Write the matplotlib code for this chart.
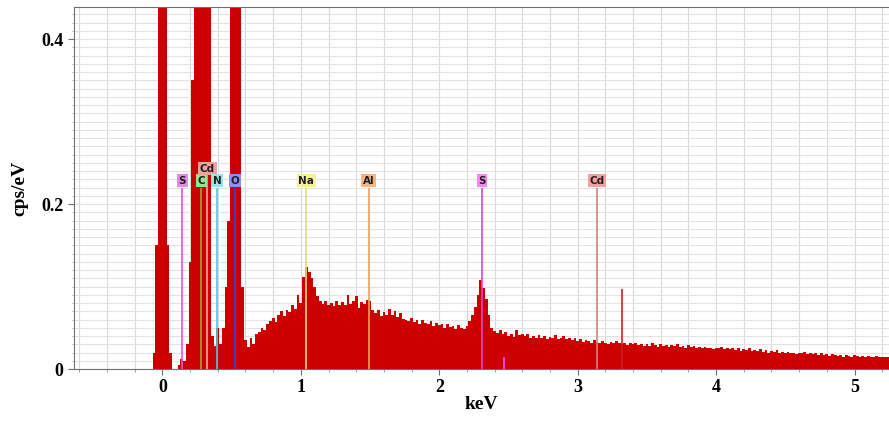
import numpy as np
import matplotlib
matplotlib.use("Agg")
import matplotlib.pyplot as plt
from matplotlib.ticker import MultipleLocator

# EDS spectrum, 0.02 keV channels starting at -0.10 keV (cps/eV)
e_start = -0.10
e_step = 0.02
counts = [
    0.0, 0.0, 0.02, 0.15, 2.0, 2.0, 2.0, 0.15, 0.02, 0.0,
    0.0, 0.005, 0.012, 0.01, 0.03, 0.13, 0.35, 2.0, 2.0, 2.0,
    2.0, 2.0, 0.5, 0.04, 0.028, 0.05, 0.03, 0.05, 0.10, 0.18,
    0.5, 2.0, 2.0, 0.45, 0.10, 0.035, 0.027, 0.037, 0.03, 0.042,
    0.045, 0.05, 0.047, 0.055, 0.058, 0.062, 0.057, 0.066, 0.07, 0.064,
    0.072, 0.069, 0.078, 0.073, 0.09, 0.08, 0.112, 0.124, 0.118, 0.11,
    0.10, 0.088, 0.082, 0.079, 0.083, 0.077, 0.08, 0.076, 0.082, 0.078,
    0.081, 0.077, 0.09, 0.079, 0.083, 0.088, 0.074, 0.081, 0.079, 0.084,
    0.083, 0.072, 0.068, 0.071, 0.064, 0.069, 0.065, 0.073, 0.066, 0.07,
    0.063, 0.068, 0.061, 0.06, 0.058, 0.062, 0.057, 0.06, 0.055, 0.059,
    0.056, 0.054, 0.058, 0.052, 0.056, 0.053, 0.055, 0.05, 0.054, 0.051,
    0.052, 0.049, 0.053, 0.05, 0.048, 0.052, 0.058, 0.065, 0.075, 0.09,
    0.108, 0.098, 0.085, 0.065, 0.05, 0.046, 0.044, 0.047, 0.042, 0.045,
    0.04, 0.043, 0.039, 0.047, 0.041, 0.043, 0.04, 0.042, 0.038, 0.04,
    0.037, 0.041, 0.038, 0.04, 0.036, 0.039, 0.037, 0.041, 0.036, 0.038,
    0.04, 0.036, 0.038, 0.035, 0.037, 0.034, 0.036, 0.033, 0.035, 0.034,
    0.032, 0.035, 0.033, 0.031, 0.034, 0.032, 0.03, 0.033, 0.031, 0.034,
    0.031, 0.03, 0.032, 0.029, 0.031, 0.03, 0.032, 0.029, 0.03, 0.028,
    0.03, 0.028, 0.031, 0.029, 0.027, 0.03, 0.028, 0.029, 0.027, 0.029,
    0.028, 0.03, 0.027, 0.028, 0.026, 0.029, 0.027, 0.028, 0.026, 0.027,
    0.025, 0.027, 0.025, 0.026, 0.024, 0.026, 0.025, 0.027, 0.024, 0.025,
    0.024, 0.026, 0.023, 0.025, 0.022, 0.024, 0.023, 0.025, 0.022, 0.023,
    0.022, 0.024, 0.021, 0.023, 0.02, 0.022, 0.021, 0.023, 0.02, 0.021,
    0.02, 0.021, 0.019, 0.02, 0.018, 0.02, 0.019, 0.021, 0.018, 0.019,
    0.018, 0.02, 0.017, 0.019, 0.017, 0.018, 0.016, 0.018, 0.017, 0.016,
    0.017, 0.015, 0.017, 0.016, 0.015, 0.017, 0.016, 0.015, 0.016, 0.014,
    0.016, 0.015, 0.014, 0.016, 0.015, 0.014, 0.015, 0.014, 0.015,
]
energy = e_start + e_step * np.arange(len(counts))

# single narrow spikes
spike_kev = [3.32]
spike_cps = [0.097]

# element markers
el_names = ["S", "C", "Cd", "N", "O", "Na", "Al", "S", "Cd"]
el_kev = [0.145, 0.28, 0.325, 0.395, 0.525, 1.04, 1.49, 2.31, 3.14]
el_row = [0, 0, 1, 0, 0, 0, 0, 0, 0]
el_box = ["#e48ce4", "#8ee68e", "#f2a0a0", "#92e6ea", "#8c90f2",
          "#f4f290", "#f6b482", "#f28af2", "#f2a0a0"]
el_line = ["#d858d8", "#a8a030", "#e8a8a8", "#40cde0", "#3048e0",
           "#e4e070", "#f0a058", "#e040e0", "#d08080"]

fig = plt.figure(figsize=(8.89, 4.21), dpi=100)
ax = fig.add_axes([0.0832, 0.1235, 0.9168, 0.8598])

ax.bar(energy, counts, width=e_step, color="#cc0000", edgecolor="none", zorder=2)
ax.vlines(spike_kev, 0, spike_cps, color="#cc2020", lw=1.2, zorder=2)

row_y = [0.228, 0.243]
for name, k, r, bc, lc in zip(el_names, el_kev, el_row, el_box, el_line):
    y = row_y[r]
    ax.vlines(k, 0, y - 0.008, color=lc, lw=1.2, zorder=3)
    ax.text(k, y, name, ha="center", va="center", fontsize=7.5,
            fontweight="bold", family="DejaVu Sans", color="#202020", zorder=4,
            bbox=dict(boxstyle="square,pad=0.15", fc=bc, ec="none"))
# short S K-beta mark
ax.vlines(2.465, 0, 0.014, color="#e040e0", lw=1.5, zorder=3)

ax.set_xlim(-0.639, 5.249)
ax.set_ylim(0, 0.4388)

ax.xaxis.set_major_locator(MultipleLocator(1))
ax.xaxis.set_minor_locator(MultipleLocator(0.2))
ax.yaxis.set_major_locator(MultipleLocator(0.2))
ax.yaxis.set_minor_locator(MultipleLocator(0.01))
ax.grid(which="both", axis="x", color="#d8d8d8", lw=0.8, zorder=0)
ax.grid(which="both", axis="y", color="#e2e2e2", lw=0.8, zorder=0)
ax.set_axisbelow(True)

for s in ["left", "bottom", "top"]:
    ax.spines[s].set_color("#707070")
ax.spines["right"].set_visible(False)
ax.tick_params(which="major", length=4, color="#707070", labelsize=13)
ax.tick_params(which="minor", length=2, color="#909090")
ax.tick_params(axis="y", which="minor", length=1.5, color="#b0b0b0")
ax.set_yticks([0, 0.2, 0.4])
ax.set_yticklabels(["0", "0.2", "0.4"])
for lab in ax.get_xticklabels() + ax.get_yticklabels():
    lab.set_family("Liberation Serif")
    lab.set_fontweight("bold")

ax.set_xlabel("keV", fontsize=14, fontweight="bold", family="Liberation Serif", labelpad=0)
ax.set_ylabel("cps/eV", fontsize=14, fontweight="bold", family="Liberation Serif", labelpad=9)

fig.savefig("out.png", dpi=100)
